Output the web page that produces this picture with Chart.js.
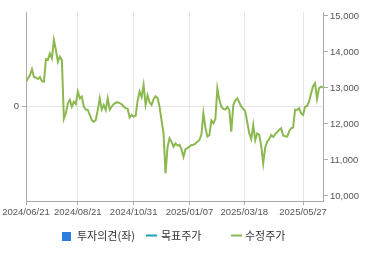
<!DOCTYPE html>
<html>
<head>
<meta charset="utf-8">
<script src="https://cdn.jsdelivr.net/npm/chart.js@4/dist/chart.umd.min.js"></script>
<style>
  html, body { margin: 0; padding: 0; background: #fff; }
  #wrap { width: 370px; height: 255px; position: relative; }
</style>
</head>
<body>
<div id="wrap"><canvas id="canvas"></canvas></div>
<script>
// adjusted close prices, sampled evenly across the period
var prices = [
	13175, 13270, 13360, 13520, 13300, 13290, 13250, 13300, 13190, 13175,
	13800, 13780, 13960, 13820, 14330, 14055, 13730, 13870, 13780, 12150,
	12300, 12575, 12670, 12480, 12620, 12550, 12900, 12715, 12760, 12480,
	12400, 12390, 12250, 12110, 12065, 12110, 12390, 12715, 12400, 12530,
	12390, 12715, 12400, 12480, 12550, 12590, 12600, 12580, 12550, 12480,
	12440, 12420, 12180, 12250, 12205, 12230, 12650, 12900, 12750, 13085,
	12530, 12800, 12600, 12530, 12690, 12770, 12720, 12480, 12100, 11740,
	10630, 11350, 11600, 11510, 11370, 11460, 11400, 11420, 11300, 11090,
	11300, 11330, 11370, 11415, 11420, 11460, 11510, 11555, 11700, 12300,
	11900, 11650, 11690, 12100, 12020, 12140, 12990, 12670, 12480, 12420,
	12400, 12480, 12390, 11790, 12530, 12650, 12715, 12600, 12480, 12420,
	12350, 12050, 11740, 11580, 11975, 11550, 11740, 11700, 11400, 10910,
	11350, 11500, 11580, 11695, 11640, 11720, 11770, 11835, 11880, 11680,
	11660, 11650, 11790, 11880, 11900, 12400, 12390, 12440, 12300, 12250,
	12480, 12500, 12620, 12850, 13050, 13130, 12700, 12990, 13040, 13020
];
var opinion = [];
var target = [];

var dateTicks = ['2024/06/21', '2024/08/21', '2024/10/31', '2025/01/07', '2025/03/18', '2025/05/27'];
var dateTickIdx = [0, 26, 54, 82, 109.5, 139];
var priceTicks = [10000, 11000, 12000, 13000, 14000, 15000];

var points = prices.map(function(v, i) { return { x: i, y: v }; });

var tickFont = { family: 'Liberation Sans, Arial, sans-serif', size: 9.5 };

// hand placed legend, spacing like the original widget
var legendBoxes = {
	id: 'legendBoxes',
	afterDraw: function(chart) {
		var ctx = chart.ctx;
		var ds = chart.data.datasets;
		var spots = [[62, 77], [146, 161], [231, 245]];
		ctx.save();
		ctx.font = '11px "Noto Sans CJK KR", sans-serif';
		ctx.textBaseline = 'middle';
		for (var i = 0; i < ds.length; i++) {
			var s = spots[i];
			if (ds[i].type === 'bar') {
				ctx.fillStyle = ds[i].backgroundColor;
				ctx.fillRect(s[0], 232, 9, 9);
			} else {
				ctx.strokeStyle = ds[i].borderColor;
				ctx.lineWidth = 2;
				ctx.beginPath();
				ctx.moveTo(s[0], 235.5);
				ctx.lineTo(s[0] + 11, 235.5);
				ctx.stroke();
			}
			ctx.fillStyle = '#333';
			ctx.fillText(ds[i].label, s[1], 236);
		}
		ctx.restore();
	}
};

var ctx = document.getElementById('canvas').getContext('2d');
window.myChart = new Chart(ctx, {
	type: 'line',
	data: {
		datasets: [{
			type: 'bar',
			label: '투자의견(좌)',
			backgroundColor: '#2b7de0',
			data: opinion,
			yAxisID: 'yL'
		}, {
			label: '목표주가',
			borderColor: '#1ba4b8',
			borderWidth: 2,
			data: target,
			yAxisID: 'yR'
		}, {
			label: '수정주가',
			borderColor: '#8cb850',
			borderWidth: 2,
			pointRadius: 0,
			tension: 0,
			data: points,
			yAxisID: 'yR'
		}]
	},
	options: {
		responsive: true,
		maintainAspectRatio: false,
		animation: false,
		layout: { padding: { top: 12, bottom: 37, left: 0, right: 0 } },
		plugins: {
			legend: { display: false },
			tooltip: { enabled: false }
		},
		scales: {
			x: {
				type: 'linear',
				offset: false,
				min: 0,
				max: prices.length - 1,
				afterBuildTicks: function(axis) {
					axis.ticks = dateTickIdx.map(function(v) { return { value: v }; });
				},
				afterFit: function(axis) { axis.height = 17; },
				ticks: {
					autoSkip: false,
					maxRotation: 0,
					color: '#555',
					font: tickFont,
					padding: 2,
					callback: function(v, i) { return dateTicks[i]; }
				},
				grid: { color: '#e6e6e6', tickLength: 4, tickColor: '#aaa', offset: false },
				border: { color: '#aaa' }
			},
			yL: {
				position: 'left',
				min: -1,
				max: 1,
				afterBuildTicks: function(axis) { axis.ticks = [{ value: 0 }]; },
				afterFit: function(axis) { axis.width = 26; },
				ticks: { color: '#555', font: tickFont, padding: 3 },
				grid: { color: '#e6e6e6', tickLength: 4, tickColor: '#aaa' },
				border: { color: '#aaa' }
			},
			yR: {
				position: 'right',
				min: 9861,
				max: 15111,
				afterBuildTicks: function(axis) {
					axis.ticks = priceTicks.map(function(v) { return { value: v }; });
				},
				afterFit: function(axis) { axis.width = 47; },
				ticks: {
					color: '#555',
					font: tickFont,
					padding: 2,
					callback: function(v) { return v.toLocaleString('en-US'); }
				},
				grid: { drawOnChartArea: false, tickLength: 5, tickColor: '#aaa' },
				border: { color: '#aaa' }
			}
		}
	},
	plugins: [legendBoxes]
});
</script>
</body>
</html>
